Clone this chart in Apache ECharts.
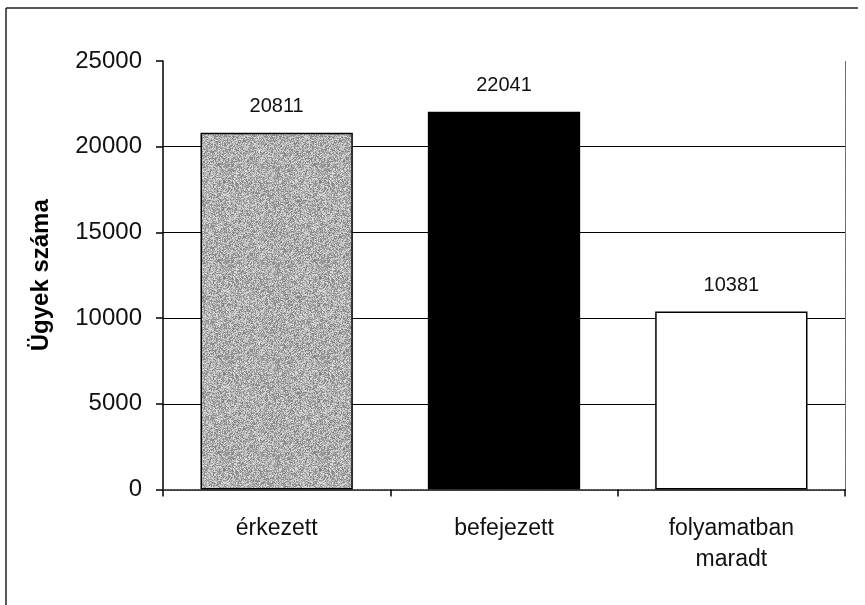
<!DOCTYPE html>
<html>
<head>
<meta charset="utf-8">
<title>Ügyek száma</title>
<script src="https://cdn.jsdelivr.net/npm/echarts@6/dist/echarts.min.js"></script>
<style>
  html, body { margin: 0; padding: 0; background: #fff; }
  #chart { width: 865px; height: 605px; }
</style>
</head>
<body>
<div id="chart"></div>
<script>
// Case counts: received, closed, still in progress
const categories = ['érkezett', 'befejezett', 'folyamatban\nmaradt'];
const caseCounts = [20811, 22041, 10381];
const yTicks = [0, 5000, 10000, 15000, 20000, 25000];

// Grainy grey fill for the first bar (deterministic noise texture)
function grainTexture() {
  const size = 96;
  const c = document.createElement('canvas');
  c.width = size; c.height = size;
  const ctx = c.getContext('2d');
  const img = ctx.createImageData(size, size);
  let s = 12345;
  for (let i = 0; i < size * size; i++) {
    s = (s * 1103515245 + 12345) & 0x7fffffff;
    const r = (s >> 8) / 8388608;
    const v = Math.round(125 + r * 100);
    img.data[i * 4] = v;
    img.data[i * 4 + 1] = v;
    img.data[i * 4 + 2] = v;
    img.data[i * 4 + 3] = 255;
  }
  ctx.putImageData(img, 0, 0);
  return c;
}

const barFills = [
  { image: grainTexture(), repeat: 'repeat' },
  '#000000',
  '#ffffff'
];

const font = '"Liberation Sans", Arial, sans-serif';
const chart = echarts.init(document.getElementById('chart'), null, { renderer: 'canvas' });

chart.setOption({
  animation: false,
  backgroundColor: '#ffffff',
  grid: { left: 163, right: 20, top: 61, bottom: 115.5, containLabel: false },
  graphic: [
    // outer chart frame (top and left edges)
    { type: 'line', shape: { x1: 6, y1: 8, x2: 858, y2: 8 }, style: { stroke: '#222', lineWidth: 1.5 } },
    { type: 'line', shape: { x1: 6, y1: 8, x2: 6, y2: 605 }, style: { stroke: '#222', lineWidth: 1.5 } }
  ],
  xAxis: [
    {
      type: 'category',
      data: categories,
      position: 'bottom',
      axisLine: { lineStyle: { color: '#000', width: 1.5 } },
      axisTick: { show: true, length: 7, inside: false, lineStyle: { color: '#000', width: 1.5 } },
      axisLabel: {
        color: '#111', fontFamily: font, fontSize: 23, margin: 24, lineHeight: 31
      },
      splitLine: { show: false }
    },
    {
      // plot-area border along the top
      type: 'category',
      data: categories,
      position: 'top',
      axisLine: { lineStyle: { color: '#666', width: 1, type: [2, 1] } },
      axisTick: { show: false },
      axisLabel: { show: false }
    }
  ],
  yAxis: [
    {
      type: 'value',
      min: yTicks[0],
      max: yTicks[yTicks.length - 1],
      interval: yTicks[1] - yTicks[0],
      name: 'Ügyek száma',
      nameLocation: 'middle',
      nameGap: 110,
      nameRotate: 90,
      nameTextStyle: { color: '#000', fontFamily: font, fontSize: 24, fontWeight: 'bold' },
      axisLine: { show: true, lineStyle: { color: '#000', width: 1.5 } },
      axisTick: { show: true, length: 7, inside: false, lineStyle: { color: '#000', width: 1.5 } },
      axisLabel: {
        color: '#111', fontFamily: font, fontSize: 24, margin: 21,
        formatter: (v) => String(v)
      },
      splitLine: {
        show: true,
        lineStyle: { color: ['#000', '#000', '#000', '#000', '#000', 'rgba(0,0,0,0)'], width: 1.2 }
      }
    },
    {
      // plot-area border along the right
      type: 'value',
      position: 'right',
      min: yTicks[0],
      max: yTicks[yTicks.length - 1],
      interval: yTicks[1] - yTicks[0],
      axisLine: { show: true, lineStyle: { color: '#666', width: 1, type: [2, 1] } },
      axisTick: { show: false },
      axisLabel: { show: false },
      splitLine: { show: false }
    }
  ],
  series: [
    {
      type: 'bar',
      xAxisIndex: 0,
      yAxisIndex: 0,
      barWidth: '67%',
      data: caseCounts.map((v, i) => ({
        value: v,
        itemStyle: { color: barFills[i], borderColor: '#000', borderWidth: 1.5 }
      })),
      label: {
        show: true,
        position: 'top',
        distance: 16,
        color: '#111',
        fontFamily: font,
        fontSize: 20
      }
    }
  ]
});
</script>
</body>
</html>
